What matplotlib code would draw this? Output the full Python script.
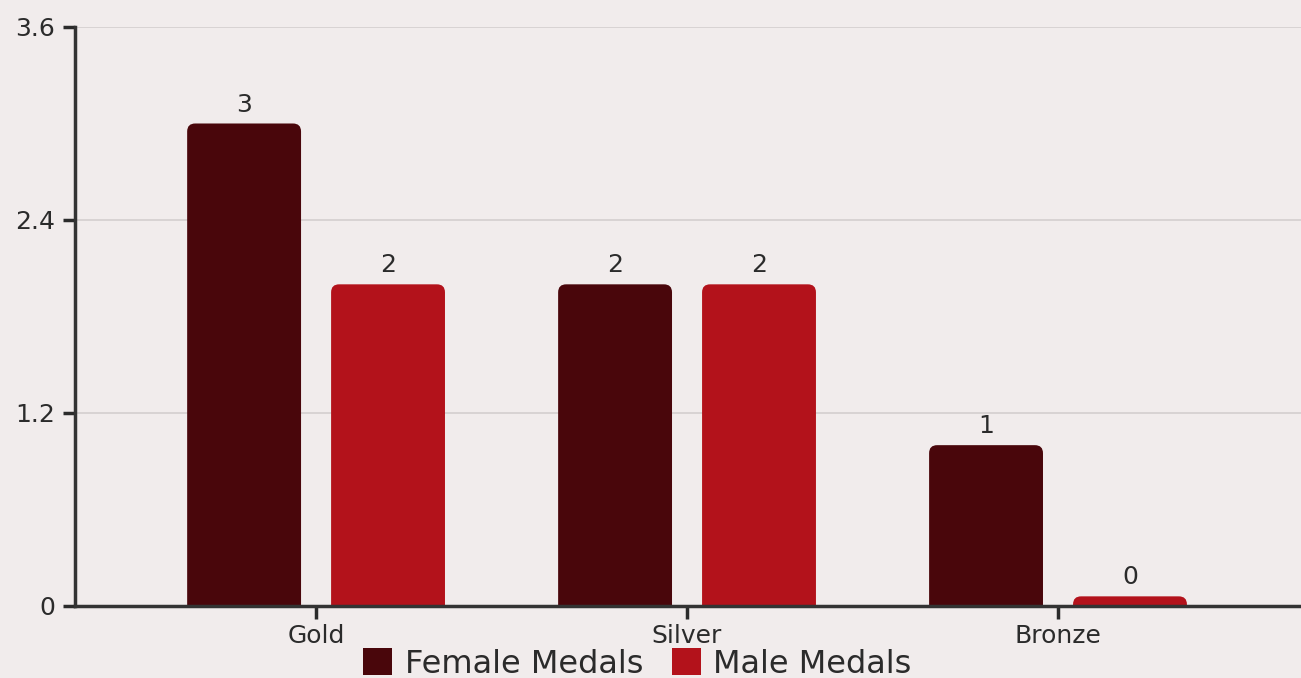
import matplotlib
matplotlib.use('Agg')
import matplotlib.pyplot as plt
import matplotlib.patches as mpatches
import numpy as np

categories = ['Gold', 'Silver', 'Bronze']
female_medals = [3, 2, 1]
male_medals = [2, 2, 0]
series = [('Female Medals', female_medals, '#49060b'),
          ('Male Medals', male_medals, '#b3121b')]
yticks = [0, 1.2, 2.4, 3.6]

bg = '#f1ecec'
ink = '#2b2b2b'
plt.rcParams['font.family'] = ['DejaVu Sans']

fig = plt.figure(figsize=(13.01, 6.78), dpi=100, facecolor=bg)
ax = fig.add_axes([0.0576, 0.1062, 0.9424, 0.8540], facecolor=bg)

x = np.arange(len(categories))
width = 0.307
offset = 0.194
min_h = 0.06  # keep zero-value bars visible as a thin stub
radius = 0.0216
aspect = 2.3

for i, (name, vals, color) in enumerate(series):
    xs = x + (i * 2 - 1) * offset
    for xc, v in zip(xs, vals):
        h = max(v, min_h)
        ax.add_patch(mpatches.FancyBboxPatch(
            (xc - width / 2, -0.1), width, h + 0.1,
            boxstyle='round,pad=0,rounding_size=%f' % radius,
            mutation_aspect=aspect, fc=color, ec='none', zorder=3))
        ax.annotate(str(v), (xc, h), xytext=(0, 5), textcoords='offset points',
                    ha='center', va='bottom', fontsize=18, color=ink)

ax.set_xlim(-0.65, 2.655)
ax.set_ylim(0, 3.6)
ax.set_yticks(yticks)
ax.set_yticklabels(['0', '1.2', '2.4', '3.6'])
ax.set_xticks(x)
ax.set_xticklabels(categories)
ax.grid(axis='y', color='#d3cfcf', lw=1.2, zorder=0)
ax.tick_params(axis='both', colors=ink, labelsize=18, width=2.5, length=9)
ax.tick_params(axis='y', pad=5)
ax.tick_params(axis='x', pad=4)
for side in ['top', 'right']:
    ax.spines[side].set_visible(False)
for side in ['left', 'bottom']:
    ax.spines[side].set_color('#333333')
    ax.spines[side].set_linewidth(2.5)
    ax.spines[side].set_zorder(4)

handles = [mpatches.Patch(fc=c, ec='none', label=n) for n, _, c in series]
fig.legend(handles=handles, loc='lower center', bbox_to_anchor=(0.49, -0.045),
           ncol=2, frameon=False, fontsize=23, handlelength=0.9, handleheight=0.9,
           handletextpad=0.4, columnspacing=0.9, labelcolor=ink)

plt.savefig('out.png', dpi=100, facecolor=bg)
plt.close()
